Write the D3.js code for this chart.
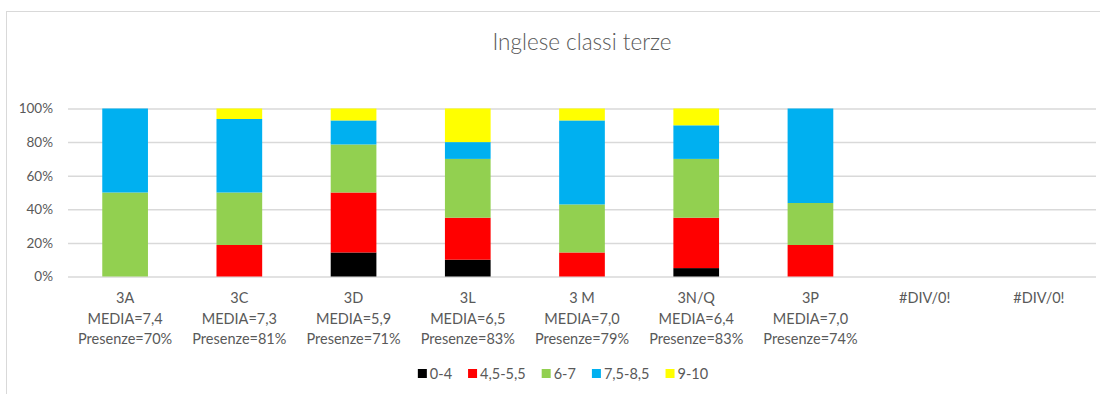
<!DOCTYPE html>
<html>
<head>
<meta charset="utf-8">
<script src="https://cdn.jsdelivr.net/npm/d3@7"></script>
<style>
  html, body { margin: 0; padding: 0; background: #fff; }
  svg { display: block; font-family: Lato, "Open Sans", sans-serif; }
</style>
</head>
<body>
<svg id="chart" width="1100" height="394"></svg>
<script>
// Classes and their label lines
const classes   = ["3A", "3C", "3D", "3L", "3 M", "3N/Q", "3P", "#DIV/0!", "#DIV/0!"];
const medie     = ["7,4", "7,3", "5,9", "6,5", "7,0", "6,4", "7,0", null, null];
const presenze  = ["70%", "81%", "71%", "83%", "79%", "83%", "74%", null, null];

// Share of students in each grade band (%)
const grade04   = [0, 0, 14.3, 10, 0, 5, 0, 0, 0];
const grade4555 = [0, 18.75, 35.7, 25, 14.3, 30, 18.75, 0, 0];
const grade67   = [50, 31.25, 28.6, 35, 28.6, 35, 25, 0, 0];
const grade7585 = [50, 43.75, 14.3, 10, 50, 20, 56.25, 0, 0];
const grade910  = [0, 6.25, 7.1, 20, 7.1, 10, 0, 0, 0];

const seriesNames  = ["0-4", "4,5-5,5", "6-7", "7,5-8,5", "9-10"];
const seriesColors = ["#000000", "#FF0000", "#92D050", "#00B0F0", "#FFFF00"];
const yTicks = [0, 20, 40, 60, 80, 100];

const svg = d3.select("#chart");
const textColor = "#595959";
const gridColor = "#D9D9D9";

// Outer chart frame
svg.append("rect")
  .attr("x", 6.5).attr("y", 11.5)
  .attr("width", 1110).attr("height", 400)
  .attr("fill", "#fff").attr("stroke", gridColor).attr("stroke-width", 1);

const plot = { left: 68, right: 1096, top: 108.5, bottom: 276.5 };

const rows = classes.map((c, i) => ({
  key: i, name: c, media: medie[i], pres: presenze[i],
  "0-4": grade04[i], "4,5-5,5": grade4555[i], "6-7": grade67[i],
  "7,5-8,5": grade7585[i], "9-10": grade910[i]
}));

const x = d3.scaleBand()
  .domain(rows.map(r => r.key))
  .range([plot.left, plot.right])
  .paddingInner(0.6).paddingOuter(0.3);

const y = d3.scaleLinear().domain([0, 100]).range([plot.bottom, plot.top]);

const color = d3.scaleOrdinal().domain(seriesNames).range(seriesColors);

// Gridlines and y labels
const yAxis = d3.axisLeft(y)
  .tickValues(yTicks)
  .tickSize(-(plot.right - plot.left))
  .tickPadding(15)
  .tickFormat(d => d + "%");

const gy = svg.append("g")
  .attr("transform", `translate(${plot.left},0)`)
  .call(yAxis);
gy.select(".domain").remove();
gy.selectAll(".tick line").attr("stroke", gridColor).attr("stroke-width", 1.5);
gy.selectAll(".tick text")
  .attr("fill", textColor).attr("font-size", 13.5)
  .attr("font-family", "Lato, sans-serif");

// Stacked bars
const stack = d3.stack().keys(seriesNames);
const layers = stack(rows);

svg.append("g").selectAll("g")
  .data(layers)
  .join("g")
    .attr("fill", d => color(d.key))
  .selectAll("rect")
  .data(d => d.filter(s => s[1] - s[0] > 0))
  .join("rect")
    .attr("x", d => x(d.data.key))
    .attr("width", x.bandwidth())
    .attr("y", d => y(d[1]))
    .attr("height", d => y(d[0]) - y(d[1]));

// Category labels (three lines each)
const cat = svg.append("g").selectAll("text")
  .data(rows)
  .join("text")
    .attr("x", d => x(d.key) + x.bandwidth() / 2)
    .attr("y", 303)
    .attr("text-anchor", "middle")
    .attr("fill", textColor)
    .attr("font-size", 14.5);

cat.each(function(d) {
  const t = d3.select(this);
  const lines = [d.name];
  if (d.media) lines.push("MEDIA=" + d.media);
  if (d.pres) lines.push("Presenze=" + d.pres);
  lines.forEach((l, i) => {
    t.append("tspan")
      .attr("x", x(d.key) + x.bandwidth() / 2)
      .attr("dy", i === 0 ? 0 : 20.5)
      .text(l);
  });
});

// Title
svg.append("text")
  .attr("x", (plot.left + plot.right) / 2)
  .attr("y", 50)
  .attr("text-anchor", "middle")
  .attr("fill", textColor)
  .attr("font-size", 22.5)
  .attr("font-weight", 300)
  .text("Inglese classi terze");

// Legend
const legend = svg.append("g");
const items = legend.selectAll("g")
  .data(seriesNames)
  .join("g");
items.append("rect")
  .attr("width", 9).attr("height", 9)
  .attr("y", 369)
  .attr("fill", d => color(d));
items.append("text")
  .attr("x", 12)
  .attr("y", 378.5)
  .attr("fill", textColor)
  .attr("font-size", 14.5)
  .text(d => d);

let cursor = 0;
const gap = 16;
items.each(function() {
  const g = d3.select(this);
  g.attr("transform", `translate(${cursor},0)`);
  cursor += 12 + g.select("text").node().getComputedTextLength() + gap;
});
const legendWidth = cursor - gap;
legend.attr("transform", `translate(${563 - legendWidth / 2},0)`);
</script>
</body>
</html>
